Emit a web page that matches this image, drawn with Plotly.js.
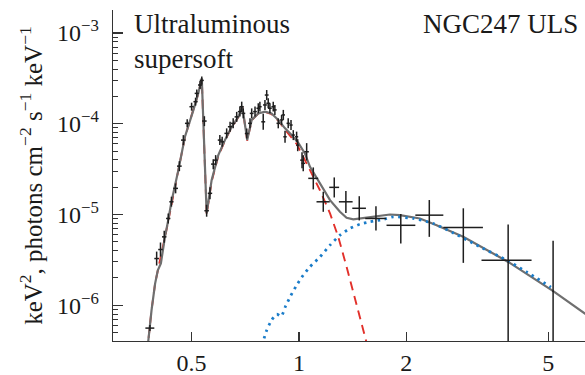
<!DOCTYPE html>
<html>
<head>
<meta charset="utf-8">
<script src="https://cdn.plot.ly/plotly-3.0.1.min.js"></script>
<style>
  html, body { margin: 0; padding: 0; background: #ffffff; }
  #chart { width: 585px; height: 375px; }
</style>
</head>
<body>
<div id="chart"></div>
<script>
// Measured spectrum: photon energy (keV) and E^2 F(E) flux
const energy = [0.382,0.399,0.409,0.419,0.430,0.439,0.451,0.462,0.474,0.486,0.500,0.513,0.517,0.528,0.534,0.543,0.551,0.563,0.575,0.584,0.600,0.609,0.627,0.641,0.654,0.669,0.683,0.691,0.698,0.714,0.729,0.737,0.753,0.769,0.777,0.794,0.803,0.812,0.820,0.829,0.847,0.856,0.875,0.894,0.904,0.914,0.933,0.950,0.964,0.985,0.992,1.020,1.028,1.051,1.097,1.170,1.256,1.354,1.476,1.644,1.93,2.32,2.89,3.86,5.16];
const flux = [5.6e-7,3.27e-6,4.11e-6,5.67e-6,9.04e-6,1.38e-5,1.94e-5,3.41e-5,6.6e-5,1.01e-4,1.54e-4,1.75e-4,2.16e-4,2.67e-4,3.0e-4,1.07e-4,1.1e-5,1.71e-5,3.59e-5,3.97e-5,6.6e-5,6.32e-5,7.83e-5,9.26e-5,1.01e-4,1.19e-4,1.36e-4,1.54e-4,1.30e-4,7.8e-5,1.01e-4,1.30e-4,1.36e-4,1.48e-4,1.54e-4,1.05e-4,1.61e-4,2.07e-4,1.68e-4,1.48e-4,1.54e-4,1.42e-4,1.01e-4,1.10e-4,1.25e-4,7.18e-5,1.01e-4,9.67e-5,7.5e-5,7.18e-5,5.8e-5,3.97e-5,3.66e-5,4.91e-5,2.50e-5,1.38e-5,1.99e-5,1.38e-5,1.17e-5,9.04e-6,7.6e-6,9.83e-6,7.2e-6,3.13e-6,1.43e-6];
const fluxErrUp = [0.44e-7,0.63e-6,0.80e-6,0.93e-6,1.22e-6,1.9e-6,2.6e-6,4.6e-6,8.9e-6,1.08e-5,1.65e-5,1.87e-5,2.3e-5,2.9e-5,3.2e-5,1.4e-5,1.8e-6,2.8e-6,4.8e-6,5.4e-6,8.9e-6,8.5e-6,1.06e-5,1.25e-5,1.36e-5,1.6e-5,1.84e-5,2.1e-5,1.75e-5,1.05e-5,1.36e-5,1.75e-5,1.84e-5,2.0e-5,2.1e-5,2.4e-5,2.2e-5,2.8e-5,2.3e-5,2.0e-5,2.1e-5,1.9e-5,1.36e-5,1.5e-5,1.7e-5,1.18e-5,1.36e-5,1.3e-5,1.0e-5,1.0e-5,0.95e-5,0.89e-5,0.82e-5,1.2e-5,0.80e-5,0.40e-5,0.57e-5,0.44e-5,0.42e-5,0.33e-5,2.5e-6,4.6e-6,4.5e-6,4.64e-6,3.69e-6];
const fluxErrDown = [0.41e-7,0.53e-6,0.67e-6,0.80e-6,1.08e-6,1.6e-6,2.3e-6,4.1e-6,7.9e-6,0.97e-5,1.48e-5,1.68e-5,2.1e-5,2.6e-5,2.9e-5,1.3e-5,1.55e-6,2.4e-6,4.3e-6,4.7e-6,7.9e-6,7.5e-6,0.93e-5,1.10e-5,1.2e-5,1.42e-5,1.62e-5,1.8e-5,1.55e-5,0.93e-5,1.2e-5,1.55e-5,1.62e-5,1.76e-5,1.8e-5,1.9e-5,1.9e-5,2.5e-5,2.0e-5,1.76e-5,1.8e-5,1.7e-5,1.2e-5,1.3e-5,1.5e-5,1.01e-5,1.2e-5,1.15e-5,0.9e-5,0.86e-5,0.82e-5,0.73e-5,0.67e-5,0.98e-5,0.61e-5,0.31e-5,0.45e-5,0.34e-5,0.31e-5,0.24e-5,2.8e-6,4.16e-6,4.27e-6,3.12e-6,1.42e-6];
const energyErrPlus = [0.011,0.006,0.006,0.006,0.006,0.006,0.007,0.007,0.007,0.007,0.007,0.007,0.007,0.007,0.007,0.008,0.008,0.008,0.008,0.008,0.008,0.008,0.009,0.009,0.009,0.009,0.009,0.009,0.009,0.009,0.009,0.009,0.009,0.009,0.009,0.010,0.010,0.010,0.010,0.010,0.010,0.010,0.010,0.010,0.010,0.010,0.010,0.010,0.010,0.010,0.010,0.012,0.012,0.015,0.035,0.05,0.04,0.06,0.065,0.11,0.19,0.22,0.39,0.63,0.02];
const energyErrMinus = [0.011,0.006,0.006,0.006,0.006,0.006,0.007,0.007,0.007,0.007,0.007,0.007,0.007,0.007,0.007,0.008,0.008,0.008,0.008,0.008,0.008,0.008,0.009,0.009,0.009,0.009,0.009,0.009,0.009,0.009,0.009,0.009,0.009,0.009,0.009,0.010,0.010,0.010,0.010,0.010,0.010,0.010,0.010,0.010,0.010,0.010,0.010,0.010,0.010,0.010,0.010,0.012,0.012,0.015,0.035,0.05,0.04,0.06,0.065,0.11,0.17,0.20,0.35,0.61,0.02];

// Total model
const modelEnergy = [0.375,0.378,0.386,0.395,0.402,0.410,0.414,0.421,0.430,0.439,0.459,0.479,0.506,0.522,0.534,0.551,0.569,0.594,0.620,0.648,0.676,0.694,0.716,0.737,0.769,0.803,0.838,0.875,0.914,0.954,0.998,1.039,1.074,1.145,1.222,1.303,1.360,1.420,1.548,1.687,1.799,1.919,2.184,2.432,2.888,3.863,5.164,6.336,6.6];
const modelTotal = [3.0e-7,4.04e-7,8.8e-7,1.73e-6,2.43e-6,2.88e-6,3.72e-6,5.67e-6,8.67e-6,1.38e-5,3.08e-5,7.18e-5,1.42e-4,2.16e-4,3.16e-4,1.03e-5,2.39e-5,4.51e-5,6.6e-5,9.27e-5,1.19e-4,1.54e-4,6.6e-5,1.10e-4,1.30e-4,1.36e-4,1.30e-4,1.10e-4,8.89e-5,7.5e-5,6.07e-5,4.71e-5,3.35e-5,2.20e-5,1.44e-5,1.07e-5,9.18e-6,8.82e-6,9.23e-6,9.59e-6,1.0e-5,9.84e-6,9.04e-6,7.63e-6,5.67e-6,3.0e-6,1.43e-6,8.1e-7,7.2e-7];

// Soft thermal component
const softEnergy = [0.375,0.378,0.386,0.395,0.402,0.410,0.421,0.430,0.439,0.459,0.479,0.506,0.522,0.534,0.551,0.569,0.594,0.620,0.648,0.676,0.694,0.716,0.737,0.769,0.803,0.838,0.875,0.914,0.954,0.985,1.074,1.145,1.222,1.289,1.360,1.451,1.548,1.581];
const softFlux = [3.0e-7,4.04e-7,8.8e-7,1.73e-6,2.5e-6,3.5e-6,5.6e-6,8.6e-6,1.37e-5,3.07e-5,7.15e-5,1.41e-4,2.15e-4,3.1e-4,1.0e-5,2.3e-5,4.4e-5,6.5e-5,9.2e-5,1.18e-4,1.53e-4,6.5e-5,1.09e-4,1.29e-4,1.35e-4,1.28e-4,1.08e-4,8.6e-5,7.1e-5,6.0e-5,3.08e-5,1.85e-5,1.03e-5,5.67e-6,2.65e-6,1.04e-6,4.11e-7,2.81e-7];

// Hard component
const hardEnergy = [0.788,0.812,0.838,0.866,0.892,0.917,0.944,0.985,1.028,1.074,1.145,1.222,1.303,1.390,1.483,1.581,1.723,1.838,2.091,2.379,2.708,3.217,3.822,4.349,5.087];
const hardFlux = [3.62e-7,5.3e-7,6.84e-7,7.96e-7,7.56e-7,9.75e-7,1.23e-6,1.66e-6,2.14e-6,2.65e-6,3.41e-6,4.59e-6,5.92e-6,7.02e-6,7.82e-6,8.3e-6,8.82e-6,9.42e-6,9.04e-6,7.96e-6,6.27e-6,4.4e-6,3.14e-6,2.33e-6,1.58e-6];

// Axis ticks
const xTickVals = [0.5, 1, 2, 5];
const xTickText = ['0.5', '1', '2', '5'];
const yTickVals = [1e-6, 1e-5, 1e-4, 1e-3];
const yTickText = ['10<sup>−6</sup>', '10<sup>−5</sup>', '10<sup>−4</sup>', '10<sup>−3</sup>'];

const serif = '"Liberation Serif", "Times New Roman", Times, serif';
const ink = '#1a1a1a';

// Drawing order: soft component underneath, then total model, hard component, data crosses on top
const traces = [
  {
    x: softEnergy, y: softFlux, type: 'scatter', mode: 'lines',
    line: { color: '#e2302a', width: 1.9, dash: '9px,6px' }, showlegend: false
  },
  {
    x: modelEnergy, y: modelTotal, type: 'scatter', mode: 'lines',
    line: { color: '#6f6f6f', width: 2.2 }, showlegend: false
  },
  {
    x: hardEnergy, y: hardFlux, type: 'scatter', mode: 'lines',
    line: { color: '#1a7cc9', width: 2.8, dash: '2.5px,4.5px', shape: 'spline', smoothing: 0.6 }, showlegend: false
  },
  {
    x: energy, y: flux, type: 'scatter', mode: 'markers',
    marker: { size: 1, color: 'rgba(0,0,0,0)' },
    error_y: { type: 'data', symmetric: false, array: fluxErrUp, arrayminus: fluxErrDown,
               color: '#1e1e1e', thickness: 1.5, width: 0 },
    error_x: { type: 'data', symmetric: false, array: energyErrPlus, arrayminus: energyErrMinus,
               color: '#1e1e1e', thickness: 1.5, width: 0 },
    hoverinfo: 'skip', showlegend: false
  }
];

const layout = {
  width: 585, height: 375,
  margin: { l: 113, r: 0, t: 10, b: 34 },
  paper_bgcolor: '#ffffff', plot_bgcolor: '#ffffff',
  font: { family: serif, color: ink, size: 24 },
  xaxis: {
    type: 'log', range: [Math.log10(0.301), Math.log10(6.34)],
    tickmode: 'array', tickvals: xTickVals, ticktext: xTickText,
    ticks: 'inside', ticklen: 9, tickwidth: 1.2, tickcolor: '#333',
    showline: true, linecolor: '#333', linewidth: 1.3,
    showgrid: false, zeroline: false, mirror: false,
    tickfont: { family: serif, size: 24, color: ink },
    ticklabelstandoff: 0
  },
  yaxis: {
    type: 'log', range: [-6.394, -2.747],
    tickmode: 'array', tickvals: yTickVals, ticktext: yTickText,
    ticks: 'inside', ticklen: 10, tickwidth: 1.2, tickcolor: '#333',
    minor: { dtick: 'D1', ticks: 'inside', ticklen: 5, tickwidth: 1, tickcolor: '#333', showgrid: false },
    showline: true, linecolor: '#333', linewidth: 1.3,
    showgrid: false, zeroline: false, mirror: false,
    tickfont: { family: serif, size: 24, color: ink },
    ticklabelstandoff: 8,
    title: {
      text: 'keV<sup>2</sup>, photons cm<sup>−2</sup> s<sup>−1</sup> keV<sup>−1</sup>',
      font: { family: serif, size: 25, color: ink },
      standoff: 7
    }
  },
  annotations: [
    {
      text: 'Ultraluminous<br>supersoft', xref: 'paper', yref: 'paper',
      x: 0.040, y: 1.008, xanchor: 'left', yanchor: 'top', align: 'left', showarrow: false,
      font: { family: serif, size: 27, color: ink }
    },
    {
      text: 'NGC247 ULS', xref: 'paper', yref: 'paper',
      x: 0.99, y: 1.008, xanchor: 'right', yanchor: 'top', align: 'right', showarrow: false,
      font: { family: serif, size: 27, color: ink }
    }
  ]
};

Plotly.newPlot('chart', traces, layout, { displayModeBar: false, staticPlot: true });
</script>
</body>
</html>
